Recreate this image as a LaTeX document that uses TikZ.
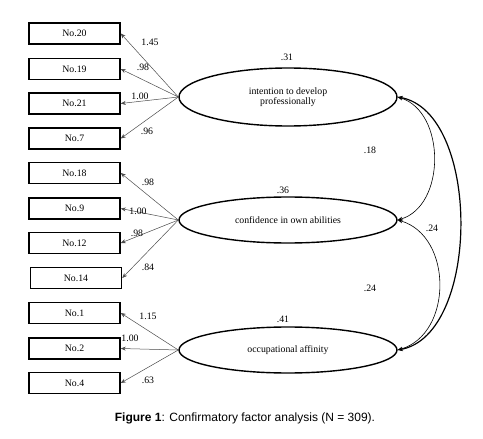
\documentclass[tikz,border=0pt]{standalone}
\usepackage{fontspec}
\setmainfont{Liberation Serif}
\newfontfamily\capfont{Liberation Sans}
\usetikzlibrary{shapes.geometric,arrows.meta}

\tikzset{
  item/.style={draw,line width=1.5pt,minimum width=91pt,minimum height=21pt,inner sep=0pt,font=\fontsize{9.8}{10}\selectfont},
  factor/.style={draw,ellipse,line width=1.4pt,minimum width=218pt,inner sep=0pt,align=center,font=\fontsize{9.8}{10}\selectfont},
  load/.style={-{Stealth[length=5pt,width=4pt]},line width=0.5pt,gray!60!black},
  cov/.style={{Stealth[length=5pt,width=4pt]}-{Stealth[length=5pt,width=4pt]},line width=0.6pt},
  num/.style={font=\fontsize{9.8}{10}\selectfont,inner sep=0pt}
}

\begin{document}
\begin{tikzpicture}[x=1pt,y=-1pt]
  \useasboundingbox (0,0) rectangle (483,439);

  % observed items
  \node[item] (n20) at (74.5,33.5) {No.20};
  \node[item] (n19) at (74.5,69) {No.19};
  \node[item] (n21) at (74.5,103.5) {No.21};
  \node[item] (n7)  at (74.5,138.5) {No.7};
  \node[item] (n18) at (74.5,173) {No.18};
  \node[item] (n9)  at (74.5,208.5) {No.9};
  \node[item] (n12) at (74.5,243) {No.12};
  \node[item] (n14) at (76,278) {No.14};
  \node[item] (n1)  at (74.5,313) {No.1};
  \node[item] (n2)  at (74.5,348.5) {No.2};
  \node[item] (n4)  at (74.5,383) {No.4};

  % latent factors
  \node[factor,minimum height=58pt] (intent) at (288,97) {intention to develop\\professionally};
  \node[factor,minimum height=46pt] (confid) at (288,220) {confidence in own abilities};
  \node[factor,minimum height=46pt] (occup) at (288,350) {occupational affinity};

  % loadings
  \foreach \I in {n20,n19,n21,n7} \draw[load] (intent.west) -- (\I.east);
  \foreach \I in {n18,n9,n12,n14} \draw[load] (confid.west) -- (\I.east);
  \foreach \I in {n1,n2,n4} \draw[load] (occup.west) -- (\I.east);

  \node[num] (l20) at (150,42) {1.45};
  \node[num] (l19) at (143,67) {.98};
  \node[num] (l21) at (140,96) {1.00};
  \node[num] (l7)  at (147,131) {.96};
  \node[num] (l18) at (148,182) {.98};
  \node[num] (l9)  at (138,211) {1.00};
  \node[num] (l12) at (137,233) {.98};
  \node[num] (l14) at (148,267) {.84};
  \node[num] (l1)  at (148,316) {1.15};
  \node[num] (l2)  at (130,338) {1.00};
  \node[num] (l4)  at (148,380) {.63};

  % explained variance
  \node[num] (r1) at (287,57) {.31};
  \node[num] (r2) at (283,190) {.36};
  \node[num] (r3) at (283,319) {.41};

  % covariances
  \draw[cov] (intent.east) .. controls (446,112) and (446,206) .. (confid.east);
  \draw[cov] (confid.east) .. controls (453,236) and (453,334) .. (occup.east);
  \draw[cov,line width=1.2pt] (intent.east) .. controls (481,112) and (481,335) .. (occup.east);
  \node[num] (c12) at (370,150) {.18};
  \node[num] (c13) at (432,228) {.24};
  \node[num] (c23) at (370,288) {.24};

  % caption
  \node[font=\capfont\fontsize{12}{14}\selectfont] (cap) at (245,418) {\textbf{Figure 1}: Confirmatory factor analysis (N = 309).};
\end{tikzpicture}
\end{document}
